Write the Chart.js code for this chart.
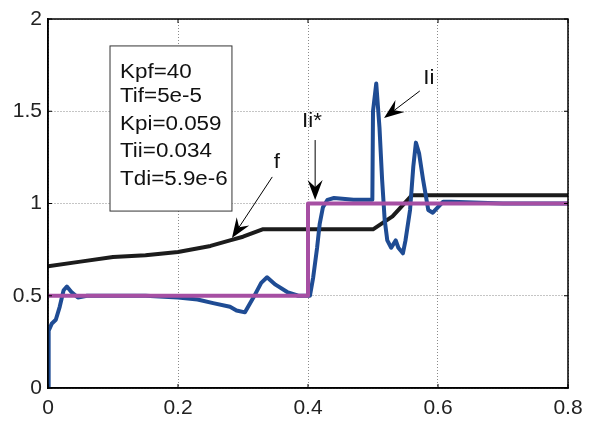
<!DOCTYPE html>
<html>
<head>
<meta charset="utf-8">
<script src="https://cdn.jsdelivr.net/npm/chart.js@4/dist/chart.umd.min.js"></script>
<style>
    body { margin: 0; background: #fff; }
    #wrap { width: 593px; height: 422px; }
</style>
</head>
<body>
<div id="wrap"><canvas id="chart" width="593" height="422"></canvas></div>
<script>
// Reference current Ii*
const refX = [0, 0.4, 0.4, 0.8];
const refY = [0.5, 0.5, 1.0, 1.0];

// Measured current Ii
const iiX = [0, 0.001, 0.006, 0.012, 0.018, 0.024, 0.029, 0.036, 0.046, 0.06, 0.1, 0.15, 0.2, 0.23, 0.254, 0.28, 0.29, 0.303, 0.316, 0.328, 0.337, 0.35, 0.368, 0.385, 0.403, 0.408, 0.414, 0.418, 0.423, 0.43, 0.44, 0.47, 0.499, 0.5, 0.505, 0.51, 0.514, 0.518, 0.522, 0.528, 0.535, 0.539, 0.546, 0.55, 0.557, 0.562, 0.566, 0.571, 0.577, 0.585, 0.592, 0.6, 0.608, 0.62, 0.7, 0.8];
const iiY = [0, 0.31, 0.35, 0.37, 0.44, 0.53, 0.55, 0.52, 0.49, 0.5, 0.5, 0.5, 0.49, 0.48, 0.46, 0.44, 0.42, 0.41, 0.49, 0.57, 0.6, 0.56, 0.52, 0.5, 0.5, 0.6, 0.76, 0.89, 0.98, 1.02, 1.03, 1.02, 1.02, 1.5, 1.65, 1.41, 1.13, 0.91, 0.8, 0.76, 0.8, 0.76, 0.73, 0.8, 0.965, 1.2, 1.33, 1.27, 1.13, 0.965, 0.95, 0.98, 1.01, 1.01, 1.0, 1.0];

// Frequency f
const fX = [0, 0.05, 0.1, 0.15, 0.2, 0.25, 0.28, 0.3, 0.33, 0.4, 0.5, 0.53, 0.56, 0.8];
const fY = [0.66, 0.685, 0.71, 0.72, 0.737, 0.77, 0.8, 0.82, 0.86, 0.86, 0.86, 0.93, 1.045, 1.045];

// Axis ticks
const xTicks = [0, 0.2, 0.4, 0.6, 0.8];
const yTicks = [0, 0.5, 1, 1.5, 2];

// Controller parameters shown in the box
const params = ['Kpf=40', 'Tif=5e-5', 'Kpi=0.059', 'Tii=0.034', 'Tdi=5.9e-6'];

const FONT = '"Liberation Sans", Arial, sans-serif';

function toPoints(xs, ys) {
    return xs.map((x, i) => ({ x: x, y: ys[i] }));
}

// arrow with a swept-back head, given in data units
function drawArrow(ctx, sx, sy, from, to) {
    const x1 = sx.getPixelForValue(from[0]), y1 = sy.getPixelForValue(from[1]);
    const x2 = sx.getPixelForValue(to[0]), y2 = sy.getPixelForValue(to[1]);
    const ang = Math.atan2(y2 - y1, x2 - x1);
    const len = 20, half = 7.5, notch = 13;
    ctx.strokeStyle = '#000';
    ctx.lineWidth = 1;
    ctx.beginPath();
    ctx.moveTo(x1, y1);
    ctx.lineTo(x2 - Math.cos(ang) * notch, y2 - Math.sin(ang) * notch);
    ctx.stroke();
    const bx = x2 - Math.cos(ang) * len, by = y2 - Math.sin(ang) * len;
    const nx = -Math.sin(ang), ny = Math.cos(ang);
    ctx.fillStyle = '#000';
    ctx.beginPath();
    ctx.moveTo(x2, y2);
    ctx.lineTo(bx + nx * half, by + ny * half);
    ctx.lineTo(x2 - Math.cos(ang) * notch, y2 - Math.sin(ang) * notch);
    ctx.lineTo(bx - nx * half, by - ny * half);
    ctx.closePath();
    ctx.fill();
}

function stretchedText(ctx, text, x, y, align) {
    ctx.save();
    ctx.translate(x, y);
    ctx.scale(1.12, 1);
    ctx.textAlign = align || 'left';
    ctx.fillText(text, 0, 0);
    ctx.restore();
}

const annotations = {
    id: 'annotations',
    afterDatasetsDraw(chart) {
        const ctx = chart.ctx;
        const sx = chart.scales.x, sy = chart.scales.y;
        const area = chart.chartArea;
        ctx.save();

        // frame on all four sides
        ctx.strokeStyle = '#000';
        ctx.lineWidth = 1.5;
        ctx.strokeRect(area.left, area.top, area.right - area.left, area.bottom - area.top);

        // small inward tick marks
        ctx.lineWidth = 1;
        xTicks.forEach(v => {
            const px = sx.getPixelForValue(v);
            ctx.beginPath();
            ctx.moveTo(px, area.bottom); ctx.lineTo(px, area.bottom - 4);
            ctx.moveTo(px, area.top); ctx.lineTo(px, area.top + 4);
            ctx.stroke();
        });
        yTicks.forEach(v => {
            const py = sy.getPixelForValue(v);
            ctx.beginPath();
            ctx.moveTo(area.left, py); ctx.lineTo(area.left + 4, py);
            ctx.moveTo(area.right, py); ctx.lineTo(area.right - 4, py);
            ctx.stroke();
        });

        // parameter box
        const bx1 = sx.getPixelForValue(0.0954), bx2 = sx.getPixelForValue(0.283);
        const by1 = sy.getPixelForValue(1.854), by2 = sy.getPixelForValue(0.959);
        ctx.fillStyle = '#fff';
        ctx.fillRect(bx1, by1, bx2 - bx1, by2 - by1);
        ctx.strokeStyle = '#333';
        ctx.lineWidth = 1;
        ctx.strokeRect(bx1, by1, bx2 - bx1, by2 - by1);

        ctx.fillStyle = '#111';
        ctx.font = '20px ' + FONT;
        ctx.textBaseline = 'alphabetic';
        const baselines = [78, 102, 130, 157, 185];
        params.forEach((t, i) => {
            stretchedText(ctx, t, bx1 + 10, baselines[i]);
        });

        // labels and arrows
        ctx.textBaseline = 'middle';
        stretchedText(ctx, 'f', sx.getPixelForValue(0.352), sy.getPixelForValue(1.225), 'center');
        stretchedText(ctx, 'Ii*', sx.getPixelForValue(0.406), sy.getPixelForValue(1.442), 'center');
        stretchedText(ctx, 'Ii', sx.getPixelForValue(0.586), sy.getPixelForValue(1.68), 'center');

        drawArrow(ctx, sx, sy, [0.345, 1.144], [0.283, 0.813]);
        drawArrow(ctx, sx, sy, [0.411, 1.344], [0.411, 1.019]);
        drawArrow(ctx, sx, sy, [0.572, 1.61], [0.517, 1.463]);

        ctx.restore();
    }
};

const lineStyle = {
    pointRadius: 0,
    borderWidth: 4,
    tension: 0,
    fill: false,
    borderJoinStyle: 'round',
    borderCapStyle: 'round'
};

new Chart(document.getElementById('chart'), {
    type: 'line',
    data: {
        datasets: [
            { ...lineStyle, label: 'Ii*', data: toPoints(refX, refY), borderColor: '#a64fa3', order: 0 },
            { ...lineStyle, label: 'Ii', data: toPoints(iiX, iiY), borderColor: '#1f4c94', order: 1 },
            { ...lineStyle, label: 'f', data: toPoints(fX, fY), borderColor: '#1c1c1c', order: 2 }
        ]
    },
    options: {
        responsive: false,
        animation: false,
        layout: { padding: { top: 19, right: 25, left: 0, bottom: 0 } },
        plugins: {
            legend: { display: false },
            tooltip: { enabled: false }
        },
        scales: {
            x: {
                type: 'linear',
                min: 0,
                max: 0.8,
                afterFit: scale => { scale.height = 34; },
                afterBuildTicks: scale => { scale.ticks = xTicks.map(v => ({ value: v })); },
                ticks: {
                    color: '#222',
                    padding: 8,
                    font: { family: FONT, size: 21 },
                    callback: v => String(v)
                },
                grid: { color: '#8a8a8a', drawTicks: false },
                border: { display: true, color: '#000', width: 1.5, dash: [1, 2] }
            },
            y: {
                min: 0,
                max: 2,
                afterFit: scale => { scale.width = 48; },
                afterBuildTicks: scale => { scale.ticks = yTicks.map(v => ({ value: v })); },
                ticks: {
                    color: '#222',
                    padding: 6,
                    font: { family: FONT, size: 21 },
                    callback: v => String(v)
                },
                grid: { color: '#8a8a8a', drawTicks: false },
                border: { display: true, color: '#000', width: 1.5, dash: [1, 2] }
            }
        }
    },
    plugins: [annotations]
});
</script>
</body>
</html>
